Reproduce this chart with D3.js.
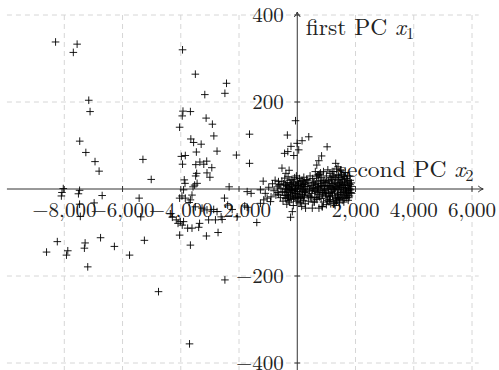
<!DOCTYPE html>
<html>
<head>
<meta charset="utf-8">
<script src="https://cdn.jsdelivr.net/npm/d3@7"></script>
<style>
  html, body { margin: 0; padding: 0; background: #fff; }
  svg { display: block; }
  text { font-family: "Latin Modern Roman", "Liberation Serif", serif; }
</style>
</head>
<body>
<svg id="chart" width="499" height="370"></svg>
<script>
// ---- data (second PC on horizontal axis, first PC on vertical axis) ----
const xTicks = [-8000, -6000, -4000, -2000, 2000, 4000, 6000];
const yTicks = [-400, -200, 200, 400];
const xAxisLabel = "second PC";
const yAxisLabel = "first PC";

// scattered scores [secondPC, firstPC]
const sparsePoints = [
  [-8300,338],[-7560,333],[-7690,314],[-3940,320],[-3500,264],[-2430,243],[-2485,220],[-3175,217],
  [-7160,204],[-7115,178],[-3925,179],[-3670,178],[-3950,168],[-3130,163],[-4040,142],[-2915,149],
  [-2865,122],[-1640,126],[-3655,115],[-3560,107],[-3300,103],[-7470,110],[-7260,84],[-2755,87],
  [-3465,85],[-2090,78],[-3980,75],[-3845,77],[-5300,68],[-6945,63],[-3940,57],[-3485,56],
  [-3345,62],[-3210,57],[-3110,64],[-2935,49],[-1640,59],[-6805,41],[-3455,36],[-3490,30],
  [-3100,37],[-3000,27],[-5015,22],[-3880,21],[-3855,13],[-3440,13],[-3525,9],[-3580,5],
  [-2340,5],[-8035,1],[-8080,-8],[-8100,-16],[-7475,-3],[-7515,-11],[-6700,-15],[-6975,-32],
  [-7475,-35],[-7450,-63],[-5430,-21],[-5375,-64],[-8240,-121],[-8610,-145],[-7880,-142],[-7925,-152],
  [-7285,-124],[-7310,-136],[-7195,-179],[-6755,-112],[-6280,-132],[-5760,-152],[-5250,-118],[-4765,-236],
  [-3700,-356],[-2485,-209],[-3905,-2],[-3960,-16],[-4040,-21],[-3845,-21],[-3615,-14],[-3670,-25],
  [-3715,-31],[-4360,-57],[-4290,-65],[-4155,-71],[-4095,-79],[-4015,-75],[-3950,-83],[-3905,-75],
  [-3765,-90],[-3615,-90],[-4040,-106],[-3355,-79],[-3385,-88],[-3500,-41],[-3270,-44],[-3100,-48],
  [-2870,-47],[-2755,-52],[-3045,-71],[-2810,-71],[-2580,-70],[-2615,-64],[-3120,-108],[-2720,-100],
  [-3670,-129],[-2500,-21],[-2390,-37],[-2235,-47],[-2065,-64],[-1805,-39],[-1720,-42],[-1390,-77],
  [-1035,-21],[-920,-29],[-1170,18],[-1265,-2],[-1720,-6],[-1585,-10],[-60,157],[-340,124],
  [395,120],[165,111],[-5,105],[50,90],[-215,98],[-435,82],[-325,86],[-120,77],
  [1025,97],[835,76],[740,65],[670,55],[-525,48],[-280,43],[-390,36],[1320,59],
  [225,27],[165,18],[690,32],[800,37],[-230,-65],[285,-44],[515,-44],[745,-44],
  [860,-41],[1090,-29],[-170,-52],[-1150,-25],[-1265,-33],[-645,17],[1400,51],[1260,40],
  [1490,44],[-735,-14],[-670,-8],[-635,9],[620,40],[735,32]
];

// dense cluster near the origin [secondPC, firstPC]
const clusterPoints = [
  [-690,5],[-640,-12],[-600,10],[-580,-20],[-560,2],[-530,18],[-510,-6],[-490,-28],[-470,12],[-450,-15],
  [-430,25],[-410,0],[-395,-22],[-380,8],[-360,-35],[-345,15],[-330,-5],[-315,28],[-300,-18],[-285,4],
  [-270,-30],[-255,20],[-240,-8],[-225,12],[-210,-24],[-195,0],[-180,22],[-165,-14],[-150,6],[-135,-38],
  [-120,16],[-105,-4],[-90,26],[-75,-20],[-60,9],[-45,-10],[-30,30],[-15,-28],[0,2],[15,18],
  [30,-16],[45,8],[60,-32],[75,24],[90,-6],[105,14],[120,-22],[135,4],[150,-40],[165,20],
  [180,-12],[195,10],[210,-26],[225,0],[240,16],[255,-8],[270,-34],[285,12],[300,-2],
  [320,22],[340,-14],[360,6],[380,-28],[400,14],[420,-4],[440,30],[460,-18],[480,8],[500,-10],
  [520,24],[540,-30],[560,2],[580,16],[600,-20],[620,10],[640,-6],[660,28],[680,-24],[700,4],
  [720,18],[740,-12],[760,34],[780,-2],[800,12],[820,-22],[840,26],[860,-8],[880,6],[900,-30],
  [920,20],[940,-4],[960,14],[980,-18],[1000,30],[1020,0],[1040,-26],[1060,18],[1080,-10],[1100,8],
  [1120,36],[1140,-16],[1160,4],[1180,22],[1200,-6],[1220,12],[1240,-28],[1260,28],[1280,-2],[1300,16],
  [1320,-20],[1340,6],[1360,32],[1380,-12],[1400,20],[1420,0],[1440,-24],[1460,14],[1480,-8],[1500,26],
  [1520,4],[1540,-18],[1560,10],[1580,30],[1600,-6],[1620,16],[1640,-14],[1660,2],[1680,24],[1700,-10],
  [1720,8],[1740,18],[1760,-4],[1780,12],[1800,0],[1820,20],[1840,-8],
  [850,-40],[1000,-36],[1150,-34],[1300,-38],[1450,-32],[1600,-30],[1750,-26],[900,40],[1050,44],[1200,40],
  [1350,46],[1500,42],[1650,38],[1800,30],[1100,-18],[1250,2],[1400,-14],[1550,22],[1700,-20],[950,8],
  [1150,26],[1350,-30],[1450,8],[1650,-2],
  [-1100,-10],[-980,4],[-900,-18],[-850,12],[-800,-4],[-760,20],
  [-420,-8],[-400,10],[-370,-2],[-340,-20],[-320,6],[-290,-12],[-260,2],[-230,-16],[-200,10],[-170,-4],
  [-140,14],[-110,-10],[-80,0],[-50,-18],[-20,8],[10,-6],[40,12],[70,-12],[100,0],[130,-18],
  [160,6],[190,-4],[220,10],[250,-16],[280,-6],[-380,-14],[-310,-26],[-220,-2],[-130,-22],[-60,-2],
  [20,-20],[110,-30],[200,-20],[260,6],
  [700,-8],[730,6],[760,-18],[790,20],[810,-4],[830,8],[870,-14],[890,16],[910,-8],[930,2],
  [970,-10],[990,16],[1010,-14],[1030,8],[1070,-2],[1090,20],[1110,-24],[1130,6],[1170,-8],[1190,12],
  [1210,-16],[1230,0],[1270,14],[1290,-10],[1310,4],[1330,-26],[1370,0],[1390,10],[1410,-20],[1430,22],
  [1470,-2],[1490,12],[1510,-12],[1530,16],[1570,-8],[1590,4],[1610,-22],[1630,8],[1670,14],[1690,-4],
  [1710,20],[1730,-14],[1770,2],[1790,-16],[1810,10],[1830,-2],[1850,6],[1870,-10],[1860,14],
  [1220,30],[1320,26],[1420,32],[1520,34],[1620,28],[1720,30],[1270,-32],[1370,-22],[1470,-20],[1570,-26],
  [1670,-16],[1770,-20],[480,-20],[520,-2],[560,14],[600,-4],[640,12],[680,2],[590,-30],[650,-20],
  [440,2],[400,-16],[360,20]
];

// ---- layout ----
const FONT = '"Latin Modern Roman", "Liberation Serif", serif';
const svg = d3.select("#chart");
const x = d3.scaleLinear().domain([-8000, 6000]).range([64.3, 472]);
const y = d3.scaleLinear().domain([-400, 400]).range([363, 15]);
const xLim = [-9970, 6230];
const yLim = [-440, 400];
const fmt = d3.format(",");
const FS = 21;     // tick labels
const LFS = 23.5;  // axis labels

// grid
const grid = svg.append("g").attr("stroke", "#d6d6d6").attr("stroke-width", 1)
  .attr("stroke-dasharray", "5,4").attr("fill", "none");
grid.selectAll("line.v").data(xTicks).join("line")
  .attr("x1", d => x(d)).attr("x2", d => x(d))
  .attr("y1", y(yLim[1])).attr("y2", y(yLim[0]));
grid.selectAll("line.h").data(yTicks).join("line")
  .attr("x1", x(xLim[0])).attr("x2", x(xLim[1]))
  .attr("y1", d => y(d)).attr("y2", d => y(d));

// axes lines
const ax = svg.append("g").attr("stroke", "#333").attr("stroke-width", 1).attr("fill", "none");
const x0 = x(0), y0 = y(0);
const xEnd = x(xLim[1]) + 4.5, yTop = y(yLim[1]) - 3;
ax.append("line").attr("x1", x(xLim[0])).attr("x2", xEnd).attr("y1", y0).attr("y2", y0);
ax.append("line").attr("x1", x0).attr("x2", x0).attr("y1", y(yLim[0])).attr("y2", yTop);
ax.append("path").attr("d", `M${xEnd-5},${y0-3} Q${xEnd-2},${y0-0.5} ${xEnd},${y0} Q${xEnd-2},${y0+0.5} ${xEnd-5},${y0+3}`);
ax.append("path").attr("d", `M${x0-3},${yTop+5} Q${x0-0.5},${yTop+2} ${x0},${yTop} Q${x0+0.5},${yTop+2} ${x0+3},${yTop+5}`);
ax.selectAll("line.xt").data(xTicks).join("line")
  .attr("x1", d => x(d)).attr("x2", d => x(d)).attr("y1", y0 - 3).attr("y2", y0 + 3);
ax.selectAll("line.yt").data(yTicks).join("line")
  .attr("y1", d => y(d)).attr("y2", d => y(d)).attr("x1", x0 - 3).attr("x2", x0 + 3);

// tick labels
svg.append("g").selectAll("text").data(xTicks).join("text")
  .style("font-family", FONT).style("fill", "#222")
  .attr("x", d => x(d)).attr("y", y0 + 27.5).attr("text-anchor", "middle")
  .attr("font-size", FS).text(d => fmt(d));
svg.append("g").selectAll("text").data(yTicks).join("text")
  .style("font-family", FONT).style("fill", "#222")
  .attr("x", x0 - 13.5).attr("y", d => y(d) + 7).attr("text-anchor", "end")
  .attr("font-size", FS).text(d => fmt(d));

// axis labels
const yl = svg.append("text").style("font-family", FONT).style("fill", "#222")
  .attr("x", x0 + 8.5).attr("y", 35).attr("font-size", LFS);
yl.append("tspan").text(yAxisLabel + " ");
yl.append("tspan").attr("font-style", "italic").text("x");
yl.append("tspan").attr("font-size", 16.5).attr("dy", 4).text("1");

const xl = svg.append("text").style("font-family", FONT).style("fill", "#222")
  .attr("x", 473.5).attr("y", 176.5).attr("font-size", LFS).attr("text-anchor", "end");
xl.append("tspan").text(xAxisLabel + " ");
xl.append("tspan").attr("font-style", "italic").text("x");
xl.append("tspan").attr("font-size", 16.5).attr("dy", 4).text("2");

// markers '+'
const allPoints = sparsePoints.concat(clusterPoints);
const r = 3.8;
svg.append("g").attr("stroke", "#000").attr("stroke-width", 0.9).attr("fill", "none")
  .selectAll("path").data(allPoints).join("path")
  .attr("d", d => {
    const px = x(d[0]), py = y(d[1]);
    return `M${px - r},${py}H${px + r}M${px},${py - r}V${py + r}`;
  });
</script>
</body>
</html>
